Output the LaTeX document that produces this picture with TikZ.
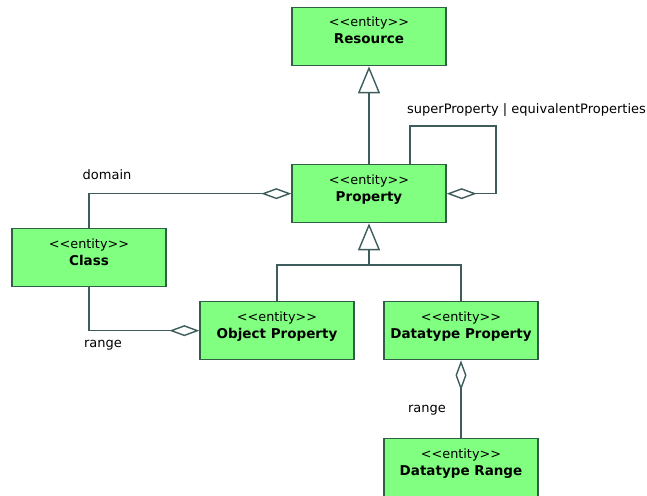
\documentclass[tikz,border=0pt]{standalone}
\usepackage{fontspec}
\setmainfont{DejaVu Sans}
\usetikzlibrary{arrows.meta}
\definecolor{entfill}{HTML}{80FF80}
\definecolor{entedge}{HTML}{2F5F45}
\definecolor{wire}{HTML}{3E5C5C}
\tikzset{
  entbox/.style={draw=entedge, fill=entfill, line width=1.3pt,
    minimum width=154pt, minimum height=58pt, inner sep=0pt, anchor=north},
  stereo/.style={anchor=base, inner sep=0pt, font=\fontsize{12.8}{14}\selectfont},
  ename/.style={anchor=base, inner sep=0pt, font=\fontsize{13.5}{15}\selectfont\bfseries},
  lbl/.style={inner sep=0pt, font=\fontsize{13}{15}\selectfont},
  conn/.style={draw=wire, line width=1.4pt},
  gen/.style={conn, -{Triangle[open, length=27pt, width=22pt, fill=white]}},
  agg/.style={conn, -{Diamond[open, length=30pt, width=11pt, fill=white]}}
}
\newcommand{\stereotext}{<{}<entity>{}>}
\begin{document}
\begin{tikzpicture}[x=1pt, y=-1pt]
  \useasboundingbox (0,0) rectangle (647,495);

  % entity boxes
  \node[entbox] (res) at (369,7)   {};
  \node[entbox] (prop) at (369,164) {};
  \node[entbox] (cls) at (89,228)  {};
  \node[entbox] (obj) at (277,301) {};
  \node[entbox] (dtp) at (461,301) {};
  \node[entbox, minimum height=62pt] (dtr) at (461,438) {};

  % box captions
  \foreach \b/\t in {res/Resource, prop/Property, cls/Class,
                     obj/Object Property, dtp/Datatype Property,
                     dtr/Datatype Range} {
    \node[stereo] (\b-s) at ([yshift=-20pt]\b.north) {\stereotext};
    \node[ename]  (\b-n) at ([yshift=-37pt]\b.north) {\t};
  }

  % generalisation: Property -> Resource
  \draw[gen] (prop.north) -- (res.south);

  % generalisation: Object/Datatype Property -> Property
  \coordinate (split) at (369,265);
  \draw[conn] (obj.north) |- (split) -| (dtp.north);
  \draw[gen] (split) -- (prop.south);

  % self association on Property
  \coordinate (loopcorner) at (496,126);
  \draw[agg] ([xshift=41pt]prop.north) |- (loopcorner) |- (prop.east);
  \node[lbl, anchor=west] (superlbl) at (407,110) {superProperty | equivalentProperties};

  % domain and range associations
  \draw[agg] (cls.north) |- (prop.west);
  \node[lbl] (domainlbl) at (107,175) {domain};
  \draw[agg] (cls.south) |- (obj.west);
  \node[lbl] (rangelbl) at (103,345) {range};
  \draw[agg] (dtr.north) -- (dtp.south);
  \node[lbl] (dtrangelbl) at (427,410) {range};
\end{tikzpicture}
\end{document}
